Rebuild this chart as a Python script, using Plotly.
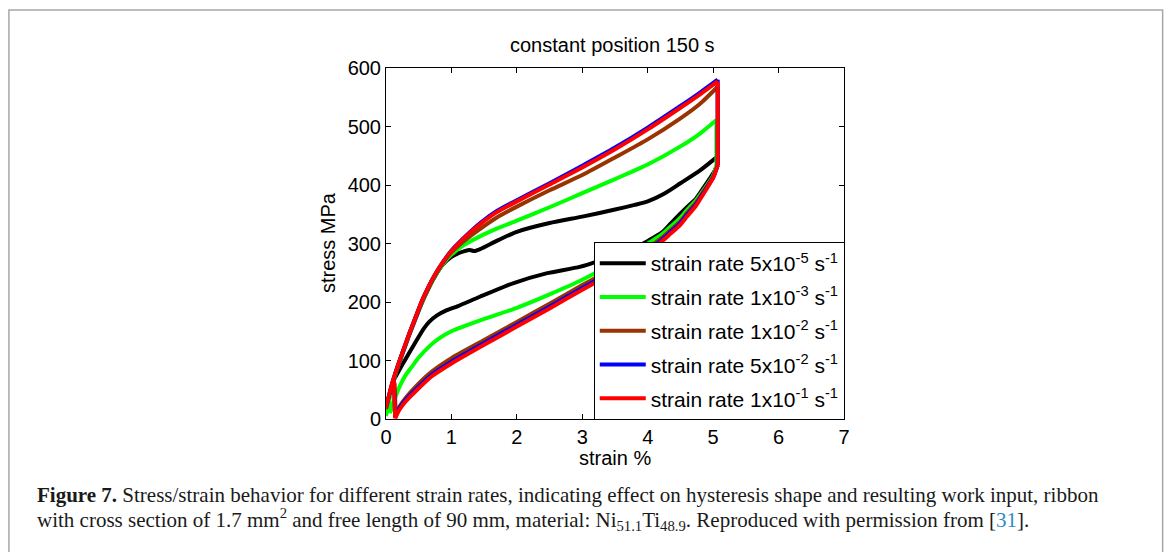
import plotly.graph_objects as go

# ---------------- data (strain %, stress MPa) ----------------
series_names = [
    "strain rate 5x10<sup>-5</sup> s<sup>-1</sup>",
    "strain rate 1x10<sup>-3</sup> s<sup>-1</sup>",
    "strain rate 1x10<sup>-2</sup> s<sup>-1</sup>",
    "strain rate 5x10<sup>-2</sup> s<sup>-1</sup>",
    "strain rate 1x10<sup>-1</sup> s<sup>-1</sup>",
]
series_colors = ["#000000", "#00ff00", "#993300", "#0000ff", "#ff0000"]

# path: loading -> hold at max strain (vertical drop) -> unloading -> hold at min strain
black_x = [0, 0.05, 0.1, 0.16, 0.25, 0.35, 0.45, 0.55, 0.65, 0.75, 0.87, 1.0, 1.1, 1.2, 1.28, 1.35, 1.45,
           1.7, 2.0, 2.5, 3.0, 3.5, 3.8, 4.0, 4.25, 4.5, 4.8, 5.07,
           5.07, 5.0, 4.87, 4.74, 4.6, 4.49, 4.35, 4.23, 3.93, 3.6, 3.22, 2.96, 2.45, 1.94, 1.435, 1.1,
           0.93, 0.78, 0.66, 0.58, 0.47, 0.36, 0.25, 0.14, 0.12]
black_y = [12, 38, 60, 82, 111, 142, 171, 199, 223, 244, 264, 277, 283, 287, 289, 287, 291,
           305, 320, 335, 346, 358, 366, 372, 385, 403, 425, 449,
           434, 420, 398, 377, 362, 350, 334, 320, 300, 285, 269, 260, 249, 232, 209, 193,
           186, 177, 166, 155, 135, 114, 93, 71, 67]

green_x = [0, 0.05, 0.1, 0.16, 0.25, 0.35, 0.45, 0.55, 0.65, 0.75, 0.87, 1.0, 1.2, 1.45, 1.7, 2.0,
           2.5, 3.0, 3.5, 4.0, 4.5, 4.8, 5.05,
           5.05, 5.0, 4.87, 4.74, 4.6, 4.49, 4.35, 4.23, 4.0, 3.5, 3.0, 2.5, 2.0, 1.5, 1.0, 0.8,
           0.67, 0.5, 0.4, 0.3, 0.21, 0.13, 0.06, 0.05]
green_y = [5, 35, 58, 82, 112, 143, 172, 200, 224, 245, 265, 281, 298, 313, 326, 339,
           362, 386, 410, 435, 466, 488, 511,
           434, 416, 394, 374, 357, 343, 329, 317, 300, 268, 238, 213, 190, 171, 150, 137,
           125, 105, 90, 75, 56, 33, 10, 40]

brown_x = [0, 0.05, 0.1, 0.16, 0.25, 0.35, 0.45, 0.55, 0.65, 0.75, 0.87, 1.0, 1.2, 1.45, 1.7, 2.0,
           2.5, 3.0, 3.5, 4.0, 4.5, 4.8, 5.07,
           5.07, 5.0, 4.87, 4.74, 4.6, 4.49, 4.35, 4.23, 4.0, 3.5, 3.0, 2.5, 2.0, 1.5, 1.0, 0.7,
           0.45, 0.3, 0.2, 0.15, 0.13]
brown_y = [17, 41, 62, 84, 113, 144, 173, 202, 226, 246, 267, 285, 305, 326, 345, 363,
           391, 417, 447, 478, 514, 539, 568,
           434, 414, 392, 370, 352, 337, 323, 311, 292, 259, 229, 197, 166, 135, 104, 81,
           55, 36, 20, 5, 62]

blue_x = [0, 0.05, 0.1, 0.16, 0.25, 0.35, 0.45, 0.55, 0.65, 0.75, 0.87, 1.0, 1.2, 1.45, 1.7, 2.0,
          2.5, 3.0, 3.5, 4.0, 4.5, 4.8, 5.07,
          5.07, 5.0, 4.87, 4.74, 4.6, 4.49, 4.35, 4.23, 4.0, 3.5, 3.0, 2.5, 2.0, 1.5, 1.0, 0.7,
          0.45, 0.3, 0.2, 0.14, 0.12]
blue_y = [19, 42, 63, 84, 113, 144, 173, 202, 226, 247, 268, 288, 311, 336, 356, 374,
          403, 433, 464, 498, 535, 558, 580,
          434, 413, 390, 367, 349, 334, 320, 308, 287, 255, 224, 192, 161, 130, 98, 76,
          50, 33, 18, 3, 68]

red_x = [0, 0.05, 0.1, 0.16, 0.25, 0.35, 0.45, 0.55, 0.65, 0.75, 0.87, 1.0, 1.2, 1.45, 1.7, 2.0,
         2.5, 3.0, 3.5, 4.0, 4.5, 4.8, 5.07,
         5.07, 5.0, 4.87, 4.74, 4.6, 4.49, 4.35, 4.23, 4.0, 3.5, 3.0, 2.5, 2.0, 1.5, 1.0, 0.7,
         0.45, 0.3, 0.2, 0.14, 0.12]
red_y = [19, 42, 63, 84, 113, 144, 173, 202, 226, 247, 268, 287, 310, 334, 354, 372,
         401, 430, 461, 495, 532, 555, 577,
         434, 412, 388, 365, 346, 331, 317, 305, 284, 252, 221, 189, 158, 127, 95, 73,
         47, 30, 15, 1, 67]

x_ticks = [0, 1, 2, 3, 4, 5, 6, 7]
y_ticks = [0, 100, 200, 300, 400, 500, 600]

title_text = "constant position 150 s"
x_title = "strain %"
y_title = "stress MPa"
caption_line1 = ("<b>Figure 7.</b> Stress/strain behavior for different strain rates, indicating effect on "
                 "hysteresis shape and resulting work input, ribbon")
caption_line2 = ("with cross section of 1.7 mm<sup>2</sup> and free length of 90 mm, material: "
                 "Ni<sub>51.1</sub>Ti<sub>48.9</sub>. Reproduced with permission from "
                 "[<span style='color:#2b8cc4'>31</span>].")

# ---------------- figure ----------------
W, H = 1167, 552
L, R, T, B = 386, 322.5, 67.7, 132.7
pw, ph = W - L - R, H - T - B

def px_x(p):
    return (p - L) / pw

def px_y(p):
    return (H - B - p) / ph

SANS = "Liberation Sans, Arial, sans-serif"
SERIF = "Liberation Serif, Times New Roman, serif"
LW = 4

fig = go.Figure()
all_x = [black_x, green_x, brown_x, blue_x, red_x]
all_y = [black_y, green_y, brown_y, blue_y, red_y]
for i, (name, col, xs, ys) in enumerate(zip(series_names, series_colors, all_x, all_y)):
    k = xs.index(max(xs))          # end of loading branch
    n = len(xs)
    pieces = [
        (xs[:k + 1], ys[:k + 1], "spline"),            # loading
        (xs[k:k + 2], ys[k:k + 2], "linear"),          # relaxation at max strain
        (xs[k + 1:n - 1], ys[k + 1:n - 1], "spline"),  # unloading
        (xs[n - 2:], ys[n - 2:], "linear"),            # hold at min strain
    ]
    for j, (px_, py_, shp) in enumerate(pieces):
        fig.add_trace(go.Scatter(
            x=px_, y=py_, mode="lines", name=name, legendgroup=f"g{i}",
            showlegend=(j == 0), hoverinfo="skip",
            line=dict(color=col, width=LW, shape=shp,
                      **({"smoothing": 0.6} if shp == "spline" else {}))))

axis_common = dict(showgrid=False, zeroline=False, showline=True, linecolor="black", linewidth=1,
                   mirror="ticks", ticks="inside", ticklen=5, tickcolor="black", tickwidth=1,
                   tickfont=dict(family=SANS, size=20, color="black"))

fig.update_layout(
    width=W, height=H,
    margin=dict(l=L, r=R, t=T, b=B, pad=0),
    paper_bgcolor="white", plot_bgcolor="white",
    xaxis=dict(range=[0, 7], tickvals=x_ticks, ticktext=[str(v) for v in x_ticks], **axis_common),
    yaxis=dict(range=[0, 600], tickvals=y_ticks, ticktext=[str(v) for v in y_ticks], **axis_common),
    showlegend=True,
    legend=dict(x=px_x(594), y=px_y(242), xanchor="left", yanchor="top",
                bgcolor="white", bordercolor="black", borderwidth=1,
                font=dict(family=SANS, size=21, color="black"),
                itemwidth=46, tracegroupgap=3.5, traceorder="grouped"),
)

annotations = [
    dict(text=title_text, x=px_x(613), y=px_y(45), xref="paper", yref="paper",
         xanchor="center", yanchor="middle", showarrow=False,
         font=dict(family=SANS, size=20, color="black")),
    dict(text=x_title, x=px_x(615), y=px_y(458), xref="paper", yref="paper",
         xanchor="center", yanchor="middle", showarrow=False,
         font=dict(family=SANS, size=20, color="black")),
    dict(text=y_title, x=px_x(328), y=px_y(243), xref="paper", yref="paper",
         xanchor="center", yanchor="middle", showarrow=False, textangle=-90,
         font=dict(family=SANS, size=20, color="black")),
    dict(text=caption_line1, x=px_x(35), y=px_y(495), xref="paper", yref="paper",
         xanchor="left", yanchor="middle", showarrow=False, align="left",
         font=dict(family=SERIF, size=21, color="#1a1a1a")),
    dict(text=caption_line2, x=px_x(35), y=px_y(520), xref="paper", yref="paper",
         xanchor="left", yanchor="middle", showarrow=False, align="left",
         font=dict(family=SERIF, size=21, color="#1a1a1a")),
]
fig.update_layout(annotations=annotations)

fig.add_shape(type="rect", xref="paper", yref="paper",
              x0=px_x(8.5), x1=px_x(1163.5), y0=px_y(600), y1=px_y(9.5),
              line=dict(color="#a8a8a8", width=1.5), fillcolor="rgba(0,0,0,0)", layer="below")

fig.write_html("out.html", config={"displayModeBar": False},
               post_script="document.body.style.margin='0px';")
